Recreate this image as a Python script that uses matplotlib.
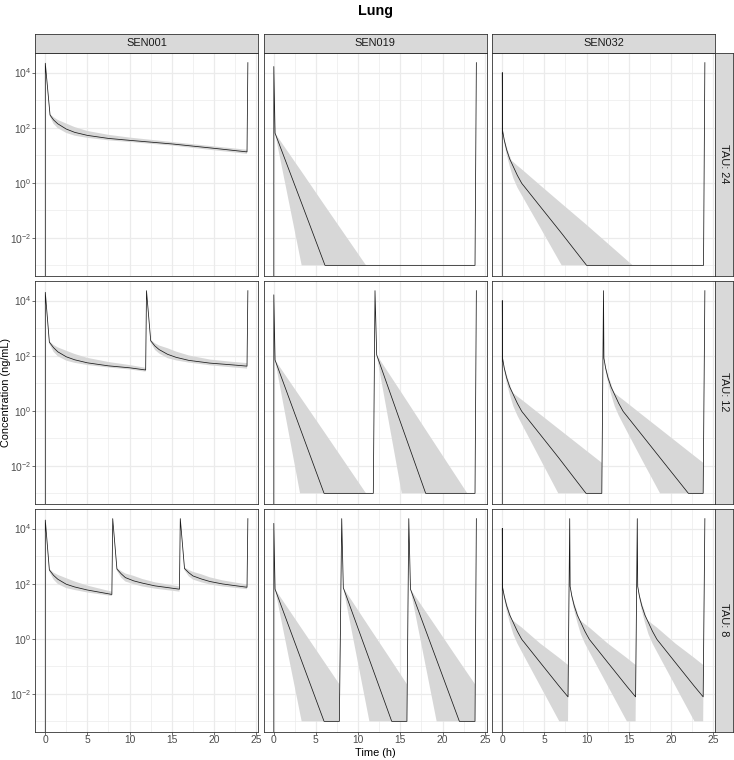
import numpy as np
import matplotlib
matplotlib.use("Agg")
import matplotlib.pyplot as plt
from matplotlib.ticker import FixedLocator, FuncFormatter, NullFormatter

plt.rcParams['font.family'] = ['Liberation Sans', 'DejaVu Sans']
plt.rcParams['mathtext.fontset'] = 'custom'
plt.rcParams['mathtext.rm'] = 'Liberation Sans'
plt.rcParams['mathtext.it'] = 'Liberation Sans:italic'
plt.rcParams['mathtext.bf'] = 'Liberation Sans:bold'

# ---------------- text / categories ----------------
title = "Lung"
x_label = "Time (h)"
y_label = "Concentration (ng/mL)"
compounds = ["SEN001", "SEN019", "SEN032"]
taus = [24, 12, 8]
x_ticks = [0, 5, 10, 15, 20, 25]
x_minor = [2.5, 7.5, 12.5, 17.5, 22.5]
y_ticks = [1e-2, 1e0, 1e2, 1e4]
y_minor = [1e-3, 1e-1, 1e1, 1e3]

# ---------------- data (ng/mL) ----------------
# SEN001, TAU 24
s001_t24_time = [0, 0.02, 0.58, 1.0, 1.5, 2.5, 3.5, 5.0, 7.5, 10.0, 15.0, 20.0, 23.9, 24.0]
s001_t24_med = [0, 21900, 288, 191, 138, 89.1, 67.6, 52.5, 40.7, 34.7, 25.7, 17.8, 13.2, 23000]
s001_t24_lo = [0, 21900, 251, 138, 95.5, 64.6, 51.3, 42.7, 34.7, 30.2, 22.4, 15.1, 11.2, 23000]
s001_t24_hi = [0, 21900, 316, 240, 191, 141, 105, 75.9, 55.0, 43.7, 30.2, 20.9, 15.8, 23000]

# SEN001, TAU 12
s001_t12_time = [0, 0.02, 0.5, 1.0, 1.5, 2.5, 3.5, 5.0, 7.5, 10.0, 11.9,
                 12.0, 12.5, 13.0, 13.5, 14.5, 15.5, 17.0, 19.5, 22.0, 23.9, 24.0]
s001_t12_med = [0, 20000, 309, 195, 138, 91.2, 70.8, 55.0, 42.7, 36.3, 30.2,
                22900, 347, 224, 166, 112, 87.1, 67.6, 53.7, 46.8, 41.7, 22900]
s001_t12_lo = [0, 20000, 269, 138, 95.5, 66.1, 55.0, 45.7, 37.2, 31.6, 26.3,
               22900, 302, 162, 120, 81.3, 67.6, 56.2, 44.7, 38.0, 33.9, 22900]
s001_t12_hi = [0, 20000, 339, 245, 200, 151, 115, 83.2, 58.9, 45.7, 36.3,
               22900, 380, 282, 234, 186, 141, 102, 72.4, 60.3, 53.7, 22900]

# SEN001, TAU 8
s001_t8_time = [0, 0.02, 0.5, 1.0, 1.5, 2.5, 3.5, 5.0, 7.9,
                8.0, 8.5, 9.0, 9.5, 10.5, 11.5, 13.0, 15.9,
                16.0, 16.5, 17.0, 17.5, 18.5, 19.5, 21.0, 23.9, 24.0]
s001_t8_med = [0, 20400, 316, 200, 145, 95.5, 75.9, 58.9, 40.7,
               23000, 339, 229, 166, 126, 105, 83.2, 63.1,
               23000, 355, 251, 191, 148, 120, 97.7, 74.1, 23000]
s001_t8_lo = [0, 20400, 275, 141, 97.7, 69.2, 58.9, 47.9, 35.5,
              23000, 295, 166, 120, 95.5, 79.4, 66.1, 51.3,
              23000, 309, 186, 141, 112, 93.3, 79.4, 63.1, 23000]
s001_t8_hi = [0, 20400, 347, 251, 209, 158, 120, 85.1, 51.3,
              23000, 372, 288, 234, 191, 148, 112, 79.4,
              23000, 389, 316, 269, 219, 170, 132, 93.3, 23000]

# SEN019, TAU 24
s019_t24_time = [0, 0.02, 0.17, 3.32, 6.08, 10.94, 23.84, 24.0]
s019_t24_med = [0, 16600, 63.1, 0.178, 0.001, 0.001, 0.001, 23000]
s019_t24_lo = [0, 16600, 63.1, 0.001, 0.001, 0.001, 0.001, 23000]
s019_t24_hi = [0, 16600, 63.1, 2.51, 0.145, 0.001, 0.001, 23000]

# SEN019, TAU 12
s019_t12_time = [0, 0.02, 0.17, 3.13, 5.97, 10.94, 11.8, 12.0, 12.2, 15.17, 18.0, 22.93, 23.84, 24.0]
s019_t12_med = [0, 16200, 69.2, 0.234, 0.001, 0.001, 0.001, 22900, 107, 0.282, 0.001, 0.001, 0.001, 22900]
s019_t12_lo = [0, 16200, 69.2, 0.001, 0.001, 0.001, 0.001, 22900, 107, 0.001, 0.001, 0.001, 0.001, 22900]
s019_t12_hi = [0, 16200, 69.2, 3.24, 0.174, 0.001, 0.001, 22900, 107, 4.37, 0.204, 0.001, 0.001, 22900]

# SEN019, TAU 8
s019_t8_time = [0, 0.02, 0.17, 3.32, 5.97, 7.78, 8.06, 8.25, 11.34, 13.98, 15.78, 16.0, 16.2, 19.3, 21.99, 23.84, 24.0]
s019_t8_med = [0, 15500, 63.1, 0.155, 0.001, 0.001, 23000, 70.8, 0.174, 0.001, 0.001, 23000, 63.1, 0.170, 0.001, 0.001, 23000]
s019_t8_lo = [0, 15500, 63.1, 0.001, 0.001, 0.001, 23000, 70.8, 0.001, 0.001, 0.001, 23000, 63.1, 0.001, 0.001, 0.001, 23000]
s019_t8_hi = [0, 15500, 63.1, 2.34, 0.148, 0.0224, 23000, 70.8, 2.57, 0.155, 0.0224, 23000, 63.1, 2.51, 0.151, 0.0224, 23000]

# SEN032, TAU 24
s032_t24_time = [0, 0.02, 0.05, 0.25, 0.54, 0.9, 1.13, 1.33, 1.8, 2.32, 4.5, 7.05, 10.0, 15.46, 23.84, 24.0]
s032_t24_med = [0, 10000, 79.4, 35.5, 15.5, 7.24, 5.13, 3.80, 1.86, 0.955, 0.138, 0.0145, 0.001, 0.001, 0.001, 23000]
s032_t24_lo = [0, 10000, 79.4, 28.2, 10.5, 3.98, 2.29, 1.45, 0.676, 0.355, 0.024, 0.001, 0.001, 0.001, 0.001, 23000]
s032_t24_hi = [0, 10000, 79.4, 41.7, 20.0, 9.55, 6.31, 5.62, 4.17, 3.09, 0.813, 0.174, 0.0295, 0.001, 0.001, 23000]

# SEN032, TAU 12
s032_t12_time = [0, 0.02, 0.05, 0.25, 0.54, 0.9, 1.13, 1.33, 1.8, 2.32, 4.5, 6.65, 9.93, 11.8,
                 12.0, 12.05, 12.25, 12.54, 12.9, 13.13, 13.33, 13.8, 14.32, 16.5, 18.7, 22.05, 23.8, 24.0]
s032_t12_med = [0, 10000, 81.3, 35.5, 15.5, 7.24, 5.13, 3.80, 1.86, 0.955, 0.138, 0.0204, 0.001, 0.001,
                22900, 81.3, 35.5, 15.5, 7.24, 5.13, 3.80, 1.86, 0.955, 0.138, 0.0195, 0.001, 0.001, 22900]
s032_t12_lo = [0, 10000, 81.3, 28.2, 10.5, 3.98, 2.29, 1.45, 0.676, 0.331, 0.0178, 0.001, 0.001, 0.001,
               22900, 81.3, 28.2, 10.5, 3.98, 2.29, 1.45, 0.676, 0.331, 0.0178, 0.001, 0.001, 0.001, 22900]
s032_t12_hi = [0, 10000, 81.3, 41.7, 20.0, 9.55, 5.75, 4.37, 3.31, 2.51, 0.741, 0.224, 0.0363, 0.0129,
               22900, 81.3, 41.7, 20.0, 9.55, 5.75, 4.37, 3.31, 2.51, 0.741, 0.219, 0.0339, 0.0129, 22900]

# SEN032, TAU 8
s032_t8_time = [0, 0.02, 0.05, 0.25, 0.54, 0.9, 1.13, 1.33, 1.8, 2.32, 4.5, 6.77, 7.8,
                8.0, 8.05, 8.25, 8.54, 8.9, 9.13, 9.33, 9.8, 10.32, 12.5, 14.77, 15.8,
                16.0, 16.05, 16.25, 16.54, 16.9, 17.13, 17.33, 17.8, 18.32, 20.5, 22.77, 23.8, 24.0]
s032_t8_med = [0, 10200, 74.1, 35.5, 15.5, 7.24, 5.13, 3.80, 1.86, 0.955, 0.138, 0.0186, 0.00776,
               23000, 79.4, 35.5, 15.5, 7.24, 5.13, 3.80, 1.86, 0.955, 0.138, 0.0186, 0.00776,
               23000, 79.4, 35.5, 15.5, 7.24, 5.13, 3.80, 1.86, 0.955, 0.138, 0.0186, 0.00776, 23000]
s032_t8_lo = [0, 10200, 74.1, 28.2, 10.5, 3.98, 2.29, 1.45, 0.676, 0.339, 0.0195, 0.001, 0.001,
              23000, 79.4, 28.2, 10.5, 3.98, 2.29, 1.45, 0.676, 0.339, 0.0195, 0.001, 0.001,
              23000, 79.4, 28.2, 10.5, 3.98, 2.29, 1.45, 0.676, 0.339, 0.0195, 0.001, 0.001, 23000]
s032_t8_hi = [0, 10200, 74.1, 41.7, 20.0, 9.55, 5.01, 4.47, 3.39, 2.57, 0.676, 0.200, 0.112,
              23000, 79.4, 41.7, 20.0, 9.55, 5.01, 4.47, 3.39, 2.57, 0.676, 0.200, 0.112,
              23000, 79.4, 41.7, 20.0, 9.55, 5.01, 4.47, 3.39, 2.57, 0.676, 0.200, 0.112, 23000]

panels = {
    (24, "SEN001"): (s001_t24_time, s001_t24_med, s001_t24_lo, s001_t24_hi),
    (12, "SEN001"): (s001_t12_time, s001_t12_med, s001_t12_lo, s001_t12_hi),
    (8, "SEN001"): (s001_t8_time, s001_t8_med, s001_t8_lo, s001_t8_hi),
    (24, "SEN019"): (s019_t24_time, s019_t24_med, s019_t24_lo, s019_t24_hi),
    (12, "SEN019"): (s019_t12_time, s019_t12_med, s019_t12_lo, s019_t12_hi),
    (8, "SEN019"): (s019_t8_time, s019_t8_med, s019_t8_lo, s019_t8_hi),
    (24, "SEN032"): (s032_t24_time, s032_t24_med, s032_t24_lo, s032_t24_hi),
    (12, "SEN032"): (s032_t12_time, s032_t12_med, s032_t12_lo, s032_t12_hi),
    (8, "SEN032"): (s032_t8_time, s032_t8_med, s032_t8_lo, s032_t8_hi),
}

# ---------------- scales (ggplot-like 5% expansion) ----------------
all_t = np.concatenate([np.asarray(p[0], float) for p in panels.values()])
all_y = np.concatenate([np.asarray(v, float) for p in panels.values() for v in p[1:]])
pos = all_y[all_y > 0]
lmin, lmax = np.log10(pos.min()), np.log10(pos.max())
lr = lmax - lmin
ylim = (10 ** (lmin - 0.05 * lr), 10 ** (lmax + 0.05 * lr))
tr = all_t.max() - all_t.min()
xlim = (all_t.min() - 0.05 * tr, all_t.max() + 0.05 * tr)

# ---------------- layout ----------------
W, H = 734, 760
fig = plt.figure(figsize=(W / 100, H / 100), dpi=100)
fig.patch.set_facecolor('white')


def rect(left, top, w, h):
    return [left / W, 1 - (top + h) / H, w / W, h / H]


col_left = [35, 263.5, 492]
row_top = [52.5, 280.5, 508.5]
PW, PH = 223, 223
border_col = '#333333'
grid_col = '#EBEBEB'
strip_fill = '#D9D9D9'
ribbon_col = '#D7D7D7'


def sci_fmt(v, _):
    e = int(round(np.log10(v)))
    return r'$\mathdefault{10^{%d}}$' % e


for r, tau in enumerate(taus):
    for c, comp in enumerate(compounds):
        ax = fig.add_axes(rect(col_left[c], row_top[r], PW, PH))
        t, med, lo, hi = panels[(tau, comp)]
        ax.set_yscale('log')
        ax.fill_between(t, lo, hi, color=ribbon_col, lw=0, zorder=2)
        ax.plot(t, med, color='#1A1A1A', lw=0.55, zorder=3)
        ax.set_xlim(*xlim)
        ax.set_ylim(*ylim)
        ax.xaxis.set_major_locator(FixedLocator(x_ticks))
        ax.xaxis.set_minor_locator(FixedLocator(x_minor))
        ax.yaxis.set_major_locator(FixedLocator(y_ticks))
        ax.yaxis.set_minor_locator(FixedLocator(y_minor))
        ax.yaxis.set_major_formatter(FuncFormatter(sci_fmt))
        ax.yaxis.set_minor_formatter(NullFormatter())
        ax.xaxis.set_minor_formatter(NullFormatter())
        ax.set_axisbelow(True)
        ax.grid(which='major', color=grid_col, lw=0.9, zorder=0)
        ax.grid(which='minor', color=grid_col, lw=0.5, zorder=0)
        ax.tick_params(which='minor', length=0)
        ax.tick_params(which='major', length=2.0, width=0.5, color=border_col,
                       labelsize=7.4, labelcolor='#4D4D4D')
        ax.tick_params(axis='x', bottom=(r == 2), labelbottom=(r == 2), pad=0.8)
        ax.tick_params(axis='y', left=(c == 0), labelleft=(c == 0), pad=0.6)
        for s in ax.spines.values():
            s.set_color(border_col)
            s.set_linewidth(0.6)
            s.set_zorder(5)

        if r == 0:
            sax = fig.add_axes(rect(col_left[c], 33.5, PW, 19))
            sax.set_facecolor(strip_fill)
            sax.set_xticks([]); sax.set_yticks([])
            for s in sax.spines.values():
                s.set_color(border_col); s.set_linewidth(0.6)
            sax.text(0.5, 0.5, comp, ha='center', va='center', fontsize=7.9,
                     color='#1A1A1A', transform=sax.transAxes)
        if c == 2:
            sax = fig.add_axes(rect(715, row_top[r], 17.5, PH))
            sax.set_facecolor(strip_fill)
            sax.set_xticks([]); sax.set_yticks([])
            for s in sax.spines.values():
                s.set_color(border_col); s.set_linewidth(0.6)
            sax.text(0.5, 0.5, "TAU: %d" % tau, ha='center', va='center', fontsize=7.9,
                     color='#1A1A1A', rotation=-90, transform=sax.transAxes)

fig.text(375 / W, 1 - 11 / H, title, ha='center', va='center', fontsize=10.3, fontweight='bold')
fig.text(375 / W, 1 - 753 / H, x_label, ha='center', va='center', fontsize=7.9)
fig.text(6 / W, 1 - 392 / H, y_label, ha='center', va='center', fontsize=7.8, rotation=90)

fig.savefig('out.png', dpi=100)
